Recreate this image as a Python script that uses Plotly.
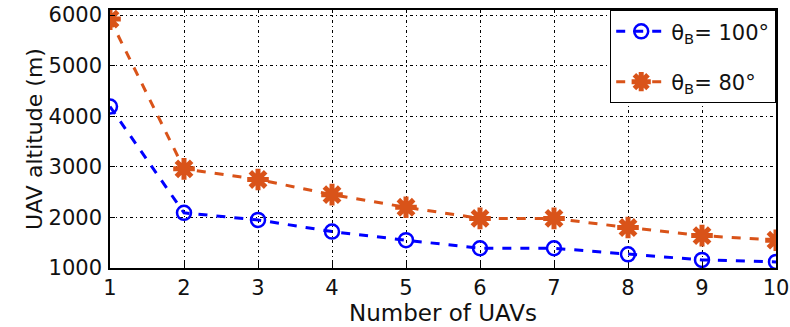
import plotly.graph_objects as go

num_uavs = [1, 2, 3, 4, 5, 6, 7, 8, 9, 10]
alt_100 = [4190, 2090, 1950, 1720, 1550, 1390, 1390, 1270, 1160, 1120]
alt_80 = [5920, 2960, 2750, 2450, 2200, 1980, 1980, 1800, 1640, 1550]
y_ticks = [1000, 2000, 3000, 4000, 5000, 6000]

FONT = "DejaVu Sans, Arial"

fig = go.Figure()
fig.add_trace(go.Scatter(
    x=num_uavs, y=alt_100, mode="lines+markers",
    name="θ<sub>B</sub>= 100°", legendgroup="a",
    line=dict(color="#0000FF", width=3, dash="dash"),
    marker=dict(symbol="circle-open", size=14, color="#0000FF", line=dict(width=2.5, color="#0000FF")),
))
fig.add_trace(go.Scatter(
    x=num_uavs, y=alt_80, mode="lines+markers",
    name="θ<sub>B</sub>= 80°", legendgroup="b",
    line=dict(color="#D95319", width=3, dash="dash"),
    marker=dict(symbol="asterisk-open", size=18, color="#D95319", line=dict(width=5, color="#D95319")),
))

axis_common = dict(
    showline=True, linecolor="black", linewidth=1.5, mirror=True,
    ticks="inside", ticklen=5, tickcolor="black",
    showgrid=True, gridcolor="black", gridwidth=1, griddash="3px,3px,1px,3px",
    zeroline=False, automargin=False,
    tickfont=dict(family=FONT, size=21, color="#111"),
)

fig.update_xaxes(range=[1, 10], tickvals=num_uavs, title=dict(text="Number of UAVs", standoff=2,
                 font=dict(family=FONT, size=23, color="#111")), **axis_common)
fig.update_yaxes(range=[1000, 6100], tickvals=y_ticks, ticklabelstandoff=2,
                 title=dict(text="UAV altitude (m)", standoff=0,
                            font=dict(family=FONT, size=22, color="#111")), **axis_common)

fig.update_layout(
    width=790, height=327,
    margin=dict(l=110, r=14, t=10, b=59),
    paper_bgcolor="white", plot_bgcolor="white",
    showlegend=True,
    legend=dict(
        x=1, y=1, xanchor="right", yanchor="top",
        bgcolor="white", bordercolor="black", borderwidth=1.2,
        font=dict(family=FONT, size=21, color="#111"),
        itemwidth=50, tracegroupgap=20, entrywidth=156,
    ),
)

fig.write_html("out.html", config={"displayModeBar": False},
               post_script="document.body.style.margin='0';document.body.style.overflow='hidden';")
